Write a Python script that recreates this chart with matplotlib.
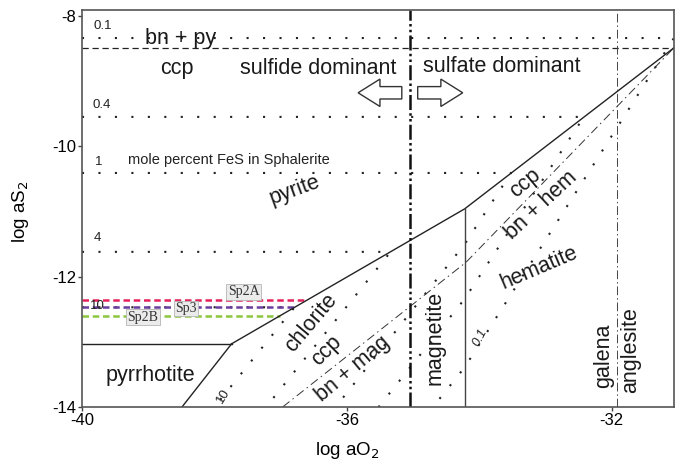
"""log aS2 - log aO2 phase diagram with FeS isopleths in sphalerite."""

import matplotlib

matplotlib.use("Agg")
import matplotlib.pyplot as plt  # noqa: E402
from matplotlib.patches import FancyArrow  # noqa: E402

plt.rcParams["font.family"] = ["Liberation Sans", "DejaVu Sans"]
plt.rcParams["axes.unicode_minus"] = False

# axis ranges
x_range = [-40, -31.06]
y_range = [-14, -7.91]
x_ticks = [-40, -36, -32]
y_ticks = [-14, -12, -10, -8]

# solid phase boundaries
pyrrhotite_top_x = [-40, -37.74]
pyrrhotite_top_y = [-13.03, -13.03]
pyrrhotite_side_x = [-37.74, -38.49]
pyrrhotite_side_y = [-13.03, -14]
pyrite_boundary_x = [-37.74, -34.22, -31.06]
pyrite_boundary_y = [-13.03, -10.96, -8.49]
mag_hem_x = [-34.22, -34.22]
mag_hem_y = [-10.96, -14]

# ccp / bn + py boundary
ccp_bnpy_x = [-40, -31.06]
ccp_bnpy_y = [-8.49, -8.49]

# ccp / bn + mag / bn + hem boundary
ccp_bn_x = [-36.97, -34.20, -31.06]
ccp_bn_y = [-14, -11.78, -8.49]

# sulfide / sulfate and galena / anglesite
sulfide_sulfate_x = -35.05
galena_anglesite_x = -31.92

# FeS isopleths (mole percent): horizontal in pyrite field, then oblique
iso_labels = ["0.1", "0.4", "1", "4", "10"]
iso_x = [
    [-40, -31.06, -34.22, -34.70],
    [-40, -32.42, -34.22, -35.52],
    [-40, -33.52, -34.22, -36.17],
    [-40, -35.34, -37.22],
    [-40, -36.79, -38.00],
]
iso_y = [
    [-8.34, -8.34, -13.39, -14],
    [-9.55, -9.55, -12.34, -14],
    [-10.41, -10.41, -11.50, -14],
    [-11.62, -11.62, -14],
    [-12.47, -12.47, -14],
]
iso_label_x = [-39.68, -39.70, -39.74, -39.76, -39.76]
iso_label_y = [-8.16, -9.37, -10.24, -11.40, -12.45]

# sphalerite samples
samples = ["Sp2A", "Sp3", "Sp2B"]
sample_y = [-12.36, -12.47, -12.60]
sample_end_x = [-36.60, -36.79, -37.01]
sample_colors = ["#e4215a", "#6a3d9e", "#8cc63f"]
sample_label_x = [-37.56, -38.43, -39.08]
sample_label_y = [-12.23, -12.49, -12.62]

fig = plt.figure(figsize=(6.82, 4.65), dpi=100)
ax = fig.add_axes([0.1202, 0.1247, 0.8680, 0.8538])
ax.set_xlim(x_range)
ax.set_ylim(y_range)

dark = "#222222"
dots = (0, (1, 6.9))

for xs, ys in zip(iso_x, iso_y):
    ax.plot(xs, ys, color=dark, lw=1.5, linestyle=dots, dash_capstyle="butt")

for y, xe, c in zip(sample_y, sample_end_x, sample_colors):
    ax.plot([-40, xe], [y, y], color=c, lw=1.8, linestyle=(0, (2.6, 1.5)))

ax.plot(pyrrhotite_top_x, pyrrhotite_top_y, color=dark, lw=1.0)
ax.plot(pyrrhotite_side_x, pyrrhotite_side_y, color=dark, lw=1.0)
ax.plot(pyrite_boundary_x, pyrite_boundary_y, color=dark, lw=1.0)
ax.plot(mag_hem_x, mag_hem_y, color="#444444", lw=1.0)
ax.plot(ccp_bnpy_x, ccp_bnpy_y, color=dark, lw=0.9, linestyle=(0, (5, 3)))
ax.plot(ccp_bn_x, ccp_bn_y, color="#333333", lw=0.7, linestyle=(0, (9, 4, 1.5, 4)))
ax.plot([sulfide_sulfate_x] * 2, y_range, color="#111111", lw=1.8,
        linestyle=(0, (6, 1.3, 1, 1.3, 1, 1.3)))
ax.plot([galena_anglesite_x] * 2, y_range, color="#444444", lw=0.7,
        linestyle=(0, (9, 3, 1.5, 3)))

# hollow arrows
for x0, dx in [(-35.17, -0.66), (-34.93, 0.68)]:
    ax.add_patch(FancyArrow(x0, -9.18, dx, 0, width=0.19, head_width=0.42,
                            head_length=0.33, length_includes_head=True,
                            facecolor="white", edgecolor="#333333", lw=1.0, zorder=5))

# isopleth numbers
for lab, x, y in zip(iso_labels, iso_label_x, iso_label_y):
    ax.text(x, y, lab, fontsize=9.5, color=dark, ha="center", va="center")
ax.text(-37.87, -13.83, "10", fontsize=9.5, rotation=58, ha="center", va="center", color=dark)
ax.text(-33.99, -12.94, "0.1", fontsize=9.5, rotation=62, ha="center", va="center",
        color=dark, style="italic")

big = dict(fontsize=15.5, color="#1a1a1a", ha="center", va="center")
ax.text(-38.51, -8.34, "bn + py", **big)
ax.text(-38.57, -8.80, "ccp", **big)
ax.text(-36.44, -8.80, "sulfide dominant", **big)
ax.text(-33.66, -8.77, "sulfate dominant", **big)
ax.text(-37.78, -10.21, "mole percent FeS in Sphalerite", fontsize=10.5, color=dark,
        ha="center", va="center")
ax.text(-36.78, -10.67, "pyrite", rotation=20, **big)
ax.text(-38.97, -13.52, "pyrrhotite", **big)
ax.text(-36.54, -12.71, "chlorite", rotation=50, **big)
ax.text(-36.30, -13.13, "ccp", rotation=45, **big)
ax.text(-35.91, -13.42, "bn + mag", rotation=40, **big)
ax.text(-34.67, -12.94, "magnetite", rotation=90, **big)
ax.text(-33.31, -10.56, "ccp", rotation=40, **big)
ax.text(-33.06, -10.90, "bn + hem", rotation=43, **big)
ax.text(-33.09, -11.87, "hematite", rotation=23, **big)
ax.text(-32.12, -13.22, "galena", rotation=90, **big)
ax.text(-31.71, -13.13, "anglesite", rotation=90, **big)

for name, x, y in zip(samples, sample_label_x, sample_label_y):
    ax.text(x, y, name, fontsize=10, family="Liberation Serif", color="#333333",
            ha="center", va="center", zorder=6,
            bbox=dict(boxstyle="square,pad=0.1", facecolor="#ebebeb", edgecolor="#b5b5b5", lw=0.6))

ax.set_xticks(x_ticks)
ax.set_yticks(y_ticks)
ax.tick_params(labelsize=12, length=3, width=1, color="#444444", pad=1)
ax.set_xlabel("log aO$_2$", fontsize=13.5)
ax.set_ylabel("log aS$_2$", fontsize=13.5)
ax.xaxis.set_label_coords(0.448, -0.083)
ax.yaxis.set_label_coords(-0.086, 0.491)
for s in ax.spines.values():
    s.set_color("#555555")
    s.set_linewidth(1.2)

fig.savefig("out.png", dpi=100)
